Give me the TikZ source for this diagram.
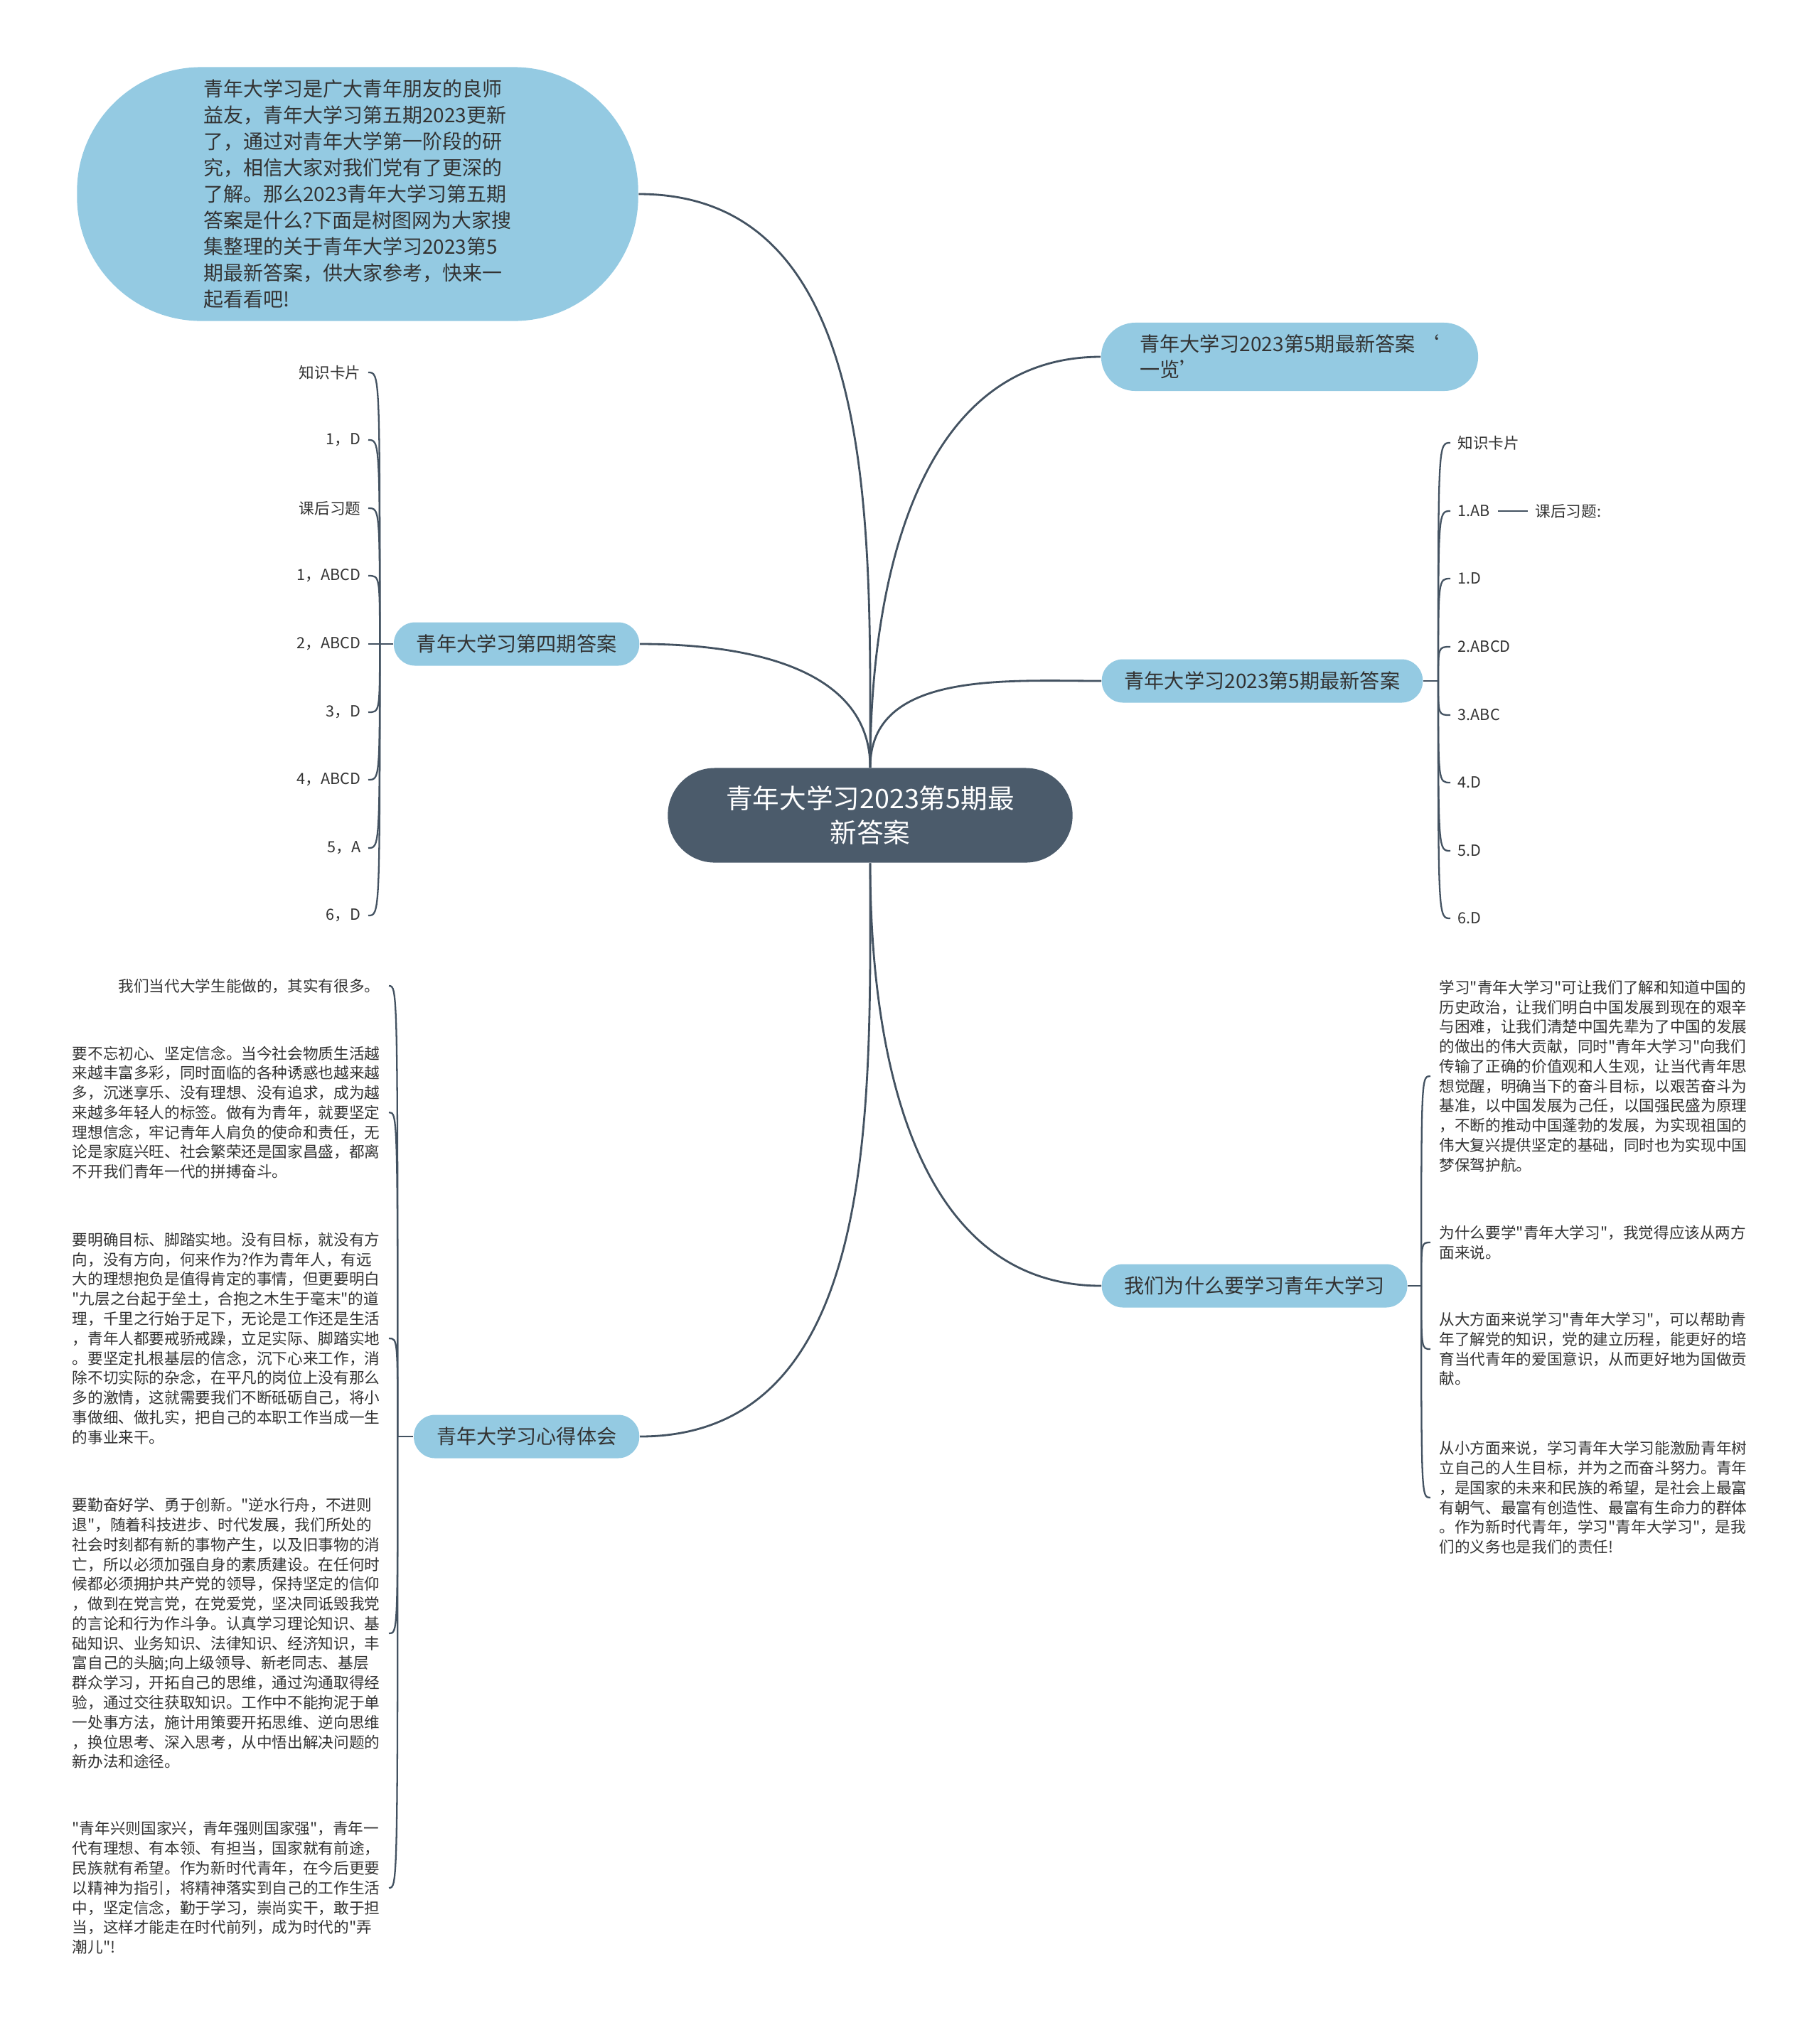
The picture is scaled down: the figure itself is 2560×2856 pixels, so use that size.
\documentclass[tikz,border=0pt]{standalone}
\usepackage{fontspec}
\newfontfamily\cjkfont{Noto Sans CJK SC}
\definecolor{slatebg}{RGB}{75,91,107}
\definecolor{skyblue}{RGB}{148,202,226}
\definecolor{inkgray}{RGB}{51,51,51}
\definecolor{linkslate}{RGB}{67,82,97}
\usetikzlibrary{positioning}

\begin{document}
\begin{tikzpicture}[x=0.01cm, y=-0.01cm,
  rootbox/.style={fill=slatebg, text=white, rounded corners=0.66cm,
    minimum width=5.69cm, minimum height=1.33cm, align=center,
    font=\cjkfont\fontsize{10.7pt}{13.9pt}\selectfont},
  topicbox/.style={fill=skyblue, text=inkgray, rounded corners=0.3cm,
    minimum height=0.61cm, inner xsep=0.32cm, inner ysep=0pt,
    font=\cjkfont\fontsize{8pt}{10.3pt}\selectfont},
  leaf/.style={text=inkgray, inner xsep=0.1cm, inner ysep=0pt,
    font=\cjkfont\fontsize{6.15pt}{7.9pt}\selectfont},
  textblock/.style={leaf, align=left, inner xsep=0.12cm},
  link/.style={linkslate, line width=0.8pt},
  twig/.style={linkslate, line width=0.65pt},
]
  \useasboundingbox (0,0) rectangle (2560,2856);

  % centre and main topics
  \node[rootbox] (root) at (1224,1147) {青年大学习2023第5期最\\新答案};
  \node[topicbox, minimum width=7.89cm, minimum height=3.57cm, rounded corners=1.75cm,
    align=left, font=\cjkfont\fontsize{7.95pt}{10.5pt}\selectfont] (t1) at (503,273)
    {青年大学习是广大青年朋友的良师\\益友，青年大学习第五期2023更新\\了，通过对青年大学第一阶段的研\\究，相信大家对我们党有了更深的\\了解。那么2023青年大学习第五期\\答案是什么?下面是树图网为大家搜\\集整理的关于青年大学习2023第5\\期最新答案，供大家参考，快来一\\起看看吧!};
  \node[topicbox, minimum width=5.3cm, minimum height=0.96cm, rounded corners=0.48cm,
    align=left] (t2) at (1814,502) {青年大学习2023第5期最新答案\ ‘\\一览’};
  \node[topicbox, anchor=west] (t3) at (1549,958) {青年大学习2023第5期最新答案};
  \node[topicbox, anchor=east] (t4) at (900,906) {青年大学习第四期答案};
  \node[topicbox, anchor=west] (t5) at (1549,1809) {我们为什么要学习青年大学习};
  \node[topicbox, anchor=east] (t6) at (900,2021) {青年大学习心得体会};

  \draw[link] (root.north) to[out=90, in=0] (t1.east);
  \draw[link] (root.north) to[out=90, in=180] (t2.west);
  \draw[link] (root.north) to[out=90, in=180] (t3.west);
  \draw[link] (root.north) to[out=90, in=0] (t4.east);
  \draw[link] (root.south) to[out=-90, in=180] (t5.west);
  \draw[link] (root.south) to[out=-90, in=0] (t6.east);

  % fifth issue answers
  \coordinate[right=0.21cm of t3] (j3);
  \node[leaf, anchor=west] (b1) at (2040,623) {知识卡片};
  \node[leaf, anchor=west] (b2) at (2040,719) {1.AB};
  \node[leaf, anchor=west] (b3) at (2040,814) {1.D};
  \node[leaf, anchor=west] (b4) at (2040,910) {2.ABCD};
  \node[leaf, anchor=west] (b5) at (2040,1006) {3.ABC};
  \node[leaf, anchor=west] (b6) at (2040,1101) {4.D};
  \node[leaf, anchor=west] (b7) at (2040,1197) {5.D};
  \node[leaf, anchor=west] (b8) at (2040,1292) {6.D};
  \node[leaf, anchor=west] (b2x) at (2149,719) {课后习题:};
  \draw[twig] (t3.east) -- (j3);
  \draw[twig] (j3) .. controls (j3 |- b1.west) .. (b1.west);
  \draw[twig] (j3) .. controls (j3 |- b2.west) .. (b2.west);
  \draw[twig] (j3) .. controls (j3 |- b3.west) .. (b3.west);
  \draw[twig] (j3) .. controls (j3 |- b4.west) .. (b4.west);
  \draw[twig] (j3) .. controls (j3 |- b5.west) .. (b5.west);
  \draw[twig] (j3) .. controls (j3 |- b6.west) .. (b6.west);
  \draw[twig] (j3) .. controls (j3 |- b7.west) .. (b7.west);
  \draw[twig] (j3) .. controls (j3 |- b8.west) .. (b8.west);
  \draw[twig] (b2) -- (b2x);

  % fourth issue answers
  \coordinate[left=0.19cm of t4] (j4);
  \node[leaf, anchor=east] (a1) at (518,524) {知识卡片};
  \node[leaf, anchor=east] (a2) at (518,619) {1，D};
  \node[leaf, anchor=east] (a3) at (518,715) {课后习题};
  \node[leaf, anchor=east] (a4) at (518,810) {1，ABCD};
  \node[leaf, anchor=east] (a5) at (518,906) {2，ABCD};
  \node[leaf, anchor=east] (a6) at (518,1002) {3，D};
  \node[leaf, anchor=east] (a7) at (518,1097) {4，ABCD};
  \node[leaf, anchor=east] (a8) at (518,1193) {5，A};
  \node[leaf, anchor=east] (a9) at (518,1288) {6，D};
  \draw[twig] (t4.west) -- (j4);
  \draw[twig] (j4) .. controls (j4 |- a1.east) .. (a1.east);
  \draw[twig] (j4) .. controls (j4 |- a2.east) .. (a2.east);
  \draw[twig] (j4) .. controls (j4 |- a3.east) .. (a3.east);
  \draw[twig] (j4) .. controls (j4 |- a4.east) .. (a4.east);
  \draw[twig] (j4) -- (a5.east);
  \draw[twig] (j4) .. controls (j4 |- a6.east) .. (a6.east);
  \draw[twig] (j4) .. controls (j4 |- a7.east) .. (a7.east);
  \draw[twig] (j4) .. controls (j4 |- a8.east) .. (a8.east);
  \draw[twig] (j4) .. controls (j4 |- a9.east) .. (a9.east);

  % why study
  \coordinate[right=0.19cm of t5] (j5);
  \node[textblock, anchor=west] (c1) at (2012,1514)
    {学习"青年大学习"可让我们了解和知道中国的\\历史政治，让我们明白中国发展到现在的艰辛\\与困难，让我们清楚中国先辈为了中国的发展\\的做出的伟大贡献，同时"青年大学习"向我们\\传输了正确的价值观和人生观，让当代青年思\\想觉醒，明确当下的奋斗目标，以艰苦奋斗为\\基准，以中国发展为己任，以国强民盛为原理\\，不断的推动中国蓬勃的发展，为实现祖国的\\伟大复兴提供坚定的基础，同时也为实现中国\\梦保驾护航。};
  \node[textblock, anchor=west] (c2) at (2012,1748)
    {为什么要学"青年大学习"，我觉得应该从两方\\面来说。};
  \node[textblock, anchor=west] (c3) at (2012,1898)
    {从大方面来说学习"青年大学习"，可以帮助青\\年了解党的知识，党的建立历程，能更好的培\\育当代青年的爱国意识，从而更好地为国做贡\\献。};
  \node[textblock, anchor=west] (c4) at (2012,2107)
    {从小方面来说，学习青年大学习能激励青年树\\立自己的人生目标，并为之而奋斗努力。青年\\，是国家的未来和民族的希望，是社会上最富\\有朝气、最富有创造性、最富有生命力的群体\\。作为新时代青年，学习"青年大学习"，是我\\们的义务也是我们的责任!};
  \draw[twig] (t5.east) -- (j5);
  \draw[twig] (j5) .. controls (j5 |- c1.west) .. (c1.west);
  \draw[twig] (j5) .. controls (j5 |- c2.west) .. (c2.west);
  \draw[twig] (j5) .. controls (j5 |- c3.west) .. (c3.west);
  \draw[twig] (j5) .. controls (j5 |- c4.west) .. (c4.west);

  % experience
  \coordinate[left=0.22cm of t6] (j6);
  \node[textblock, anchor=east] (d0) at (547,1387) {我们当代大学生能做的，其实有很多。};
  \node[textblock, anchor=east] (d1) at (547,1565)
    {要不忘初心、坚定信念。当今社会物质生活越\\来越丰富多彩，同时面临的各种诱惑也越来越\\多，沉迷享乐、没有理想、没有追求，成为越\\来越多年轻人的标签。做有为青年，就要坚定\\理想信念，牢记青年人肩负的使命和责任，无\\论是家庭兴旺、社会繁荣还是国家昌盛，都离\\不开我们青年一代的拼搏奋斗。};
  \node[textblock, anchor=east] (d2) at (547,1883)
    {要明确目标、脚踏实地。没有目标，就没有方\\向，没有方向，何来作为?作为青年人，有远\\大的理想抱负是值得肯定的事情，但更要明白\\"九层之台起于垒土，合抱之木生于毫末"的道\\理，千里之行始于足下，无论是工作还是生活\\，青年人都要戒骄戒躁，立足实际、脚踏实地\\。要坚定扎根基层的信念，沉下心来工作，消\\除不切实际的杂念，在平凡的岗位上没有那么\\多的激情，这就需要我们不断砥砺自己，将小\\事做细、做扎实，把自己的本职工作当成一生\\的事业来干。};
  \node[textblock, anchor=east] (d3) at (547,2298)
    {要勤奋好学、勇于创新。"逆水行舟，不进则\\退"，随着科技进步、时代发展，我们所处的\\社会时刻都有新的事物产生，以及旧事物的消\\亡，所以必须加强自身的素质建设。在任何时\\候都必须拥护共产党的领导，保持坚定的信仰\\，做到在党言党，在党爱党，坚决同诋毁我党\\的言论和行为作斗争。认真学习理论知识、基\\础知识、业务知识、法律知识、经济知识，丰\\富自己的头脑;向上级领导、新老同志、基层\\群众学习，开拓自己的思维，通过沟通取得经\\验，通过交往获取知识。工作中不能拘泥于单\\一处事方法，施计用策要开拓思维、逆向思维\\，换位思考、深入思考，从中悟出解决问题的\\新办法和途径。};
  \node[textblock, anchor=east] (d4) at (547,2656)
    {"青年兴则国家兴，青年强则国家强"，青年一\\代有理想、有本领、有担当，国家就有前途，\\民族就有希望。作为新时代青年，在今后更要\\以精神为指引，将精神落实到自己的工作生活\\中，坚定信念，勤于学习，崇尚实干，敢于担\\当，这样才能走在时代前列，成为时代的"弄\\潮儿"!};
  \draw[twig] (t6.west) -- (j6);
  \draw[twig] (j6) .. controls (j6 |- d0.east) .. (d0.east);
  \draw[twig] (j6) .. controls (j6 |- d1.east) .. (d1.east);
  \draw[twig] (j6) .. controls (j6 |- d2.east) .. (d2.east);
  \draw[twig] (j6) .. controls (j6 |- d3.east) .. (d3.east);
  \draw[twig] (j6) .. controls (j6 |- d4.east) .. (d4.east);
\end{tikzpicture}
\end{document}
